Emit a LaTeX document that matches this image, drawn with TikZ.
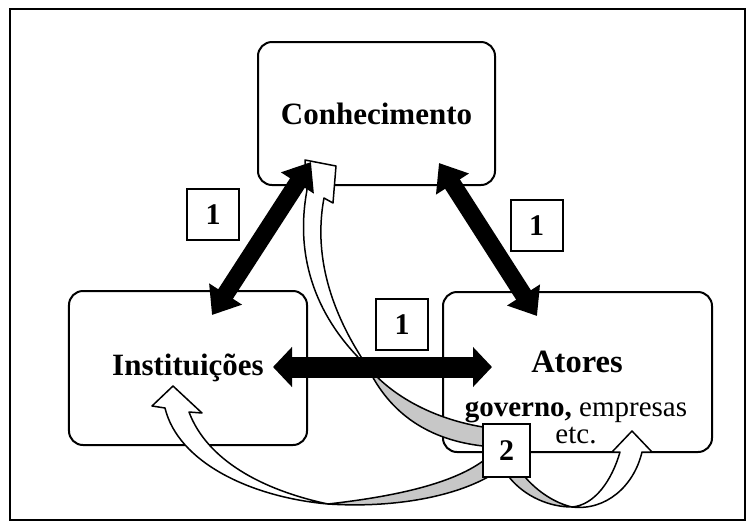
\documentclass[tikz,border=0pt]{standalone}
\usepackage{fontspec}
\setmainfont{Liberation Serif}
\usetikzlibrary{arrows.meta}

\tikzset{
  bloco/.style={draw, line width=0.8pt, rounded corners=5.6pt, fill=white, inner sep=0pt},
  titulo/.style={font=\fontsize{12.4}{14}\selectfont\bfseries},
  numero/.style={draw, line width=0.8pt, fill=white, inner sep=0pt,
    minimum width=20.8pt, minimum height=20.4pt, font=\fontsize{12}{14}\selectfont\bfseries},
  seta/.style={line width=7pt, arrows={Triangle[width=15pt,length=10pt]-Triangle[width=15pt,length=10pt]}},
  setah/.style={line width=8.4pt, arrows={Triangle[width=15.6pt,length=7.6pt]-Triangle[width=15.6pt,length=7.6pt]}},
  fita/.style={draw, line width=0.6pt, fill=white, line join=round},
  verso/.style={fita, fill=black!22},
}

\begin{document}
\begin{tikzpicture}[x=0.4pt, y=-0.4pt]
    \useasboundingbox (0,0) rectangle (754,528);
    % Frame
    \draw[line width=0.8pt] (10,9) rectangle (745,520);

    % Boxes
    \node[bloco, titulo, minimum width=94.8pt, minimum height=57.2pt] (conh) at (376.5,113.5) {Conhecimento};
    \node[bloco, titulo, minimum width=95.2pt, minimum height=61.6pt] (inst) at (188,368) {Instituições};
    \node[bloco, minimum width=107.6pt, minimum height=64pt] (ator) at (577.5,372) {};
    \node[font=\fontsize{13}{15}\selectfont\bfseries] (atornome) at (577,362) {Atores};
    \node[font=\fontsize{11.6}{10.8}\selectfont, align=center] (atorlista) at (576,423) {\textbf{governo,} empresas\\etc.};

    % Curved arrows (2)
    \path[verso] (367,366) .. controls (395,400) and (440,420) .. (483,427) -- (483,446)
        .. controls (430,440) and (390,415) .. (367,366) -- cycle;
    \path[fita] (367,366) .. controls (336,320) and (312,262) .. (324,198) -- (333,203) -- (336,166)
        -- (305,160) -- (307,190) .. controls (294,260) and (318,320) .. (367,366) -- cycle;

    \path[verso] (328,504) .. controls (390,497) and (450,485) .. (483,461) -- (488,477)
        .. controls (450,498) and (390,508) .. (328,504) -- cycle;
    \path[fita] (328,504) .. controls (250,497) and (178,462) .. (165,408) -- (152,406) -- (173,386)
        -- (202,413) -- (189,412) .. controls (207,460) and (262,490) .. (328,504) -- cycle;

    \path[verso] (509,477) .. controls (525,497) and (550,507) .. (572,507)
        .. controls (555,503) and (538,492) .. (525,477) -- cycle;
    \path[fita] (572,507) .. controls (595,505) and (612,480) .. (620,452) -- (612,452) -- (632,431)
        -- (652,452) -- (642,452) .. controls (634,486) and (606,511) .. (572,507) -- cycle;

    % Black arrows (1)
    \draw[seta] ([shift={(-65.5,-24)}]conh.south) -- ([shift={(24,25)}]inst.north);
    \draw[seta] ([shift={(62.5,-23)}]conh.south) -- ([shift={(-40.5,25)}]ator.north);
    \draw[setah] ([shift={(-35,-1)}]inst.east) -- ([shift={(50,-5)}]ator.west);

    % Labels
    \node[numero] (um1) at (213,214.5) {1};
    \node[numero] (um2) at (536.5,225.5) {1};
    \node[numero] (um3) at (402,324.5) {1};
    \node[numero, minimum width=18.8pt, minimum height=21.2pt] (dois) at (506.5,450.5) {2};
\end{tikzpicture}
\end{document}
